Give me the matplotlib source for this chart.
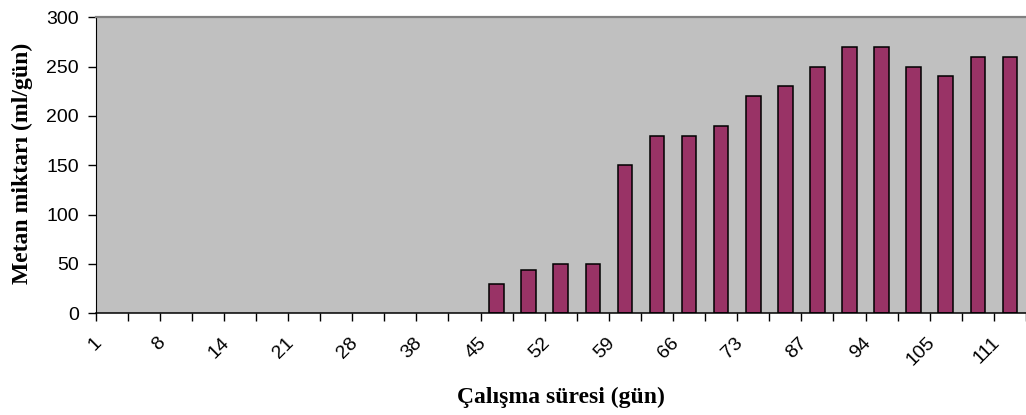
import numpy as np
import matplotlib.pyplot as plt
from matplotlib.transforms import ScaledTranslation

# Çalışma günleri (her ikinci kategori etiketli) ve günlük metan miktarı
gun_etiketleri = ['1', '8', '14', '21', '28', '38', '45', '52', '59', '66',
                  '73', '87', '94', '105', '111']
metan = [0, 0, 0, 0, 0, 0, 0, 0, 0, 0, 0, 0,
         30, 44, 50, 50, 150, 180, 180, 190, 220, 230,
         250, 270, 270, 250, 240, 260, 260]

x = np.arange(len(metan))

fig = plt.figure(figsize=(10.26, 4.15), dpi=100)
ax = fig.add_axes([95.5 / 1026, 1 - 313.3 / 415, 930.5 / 1026, 296 / 415])
ax.set_facecolor('#c0c0c0')

# sıfır değerli çubukların kenarı çizilmesin
kenar = ['black' if v > 0 else 'none' for v in metan]
ax.bar(x, metan, width=0.455, color='#993366', edgecolor=kenar,
       linewidth=1.1, zorder=2)

# Eksen sınırları
ax.set_xlim(-0.5, 28.41)
ax.set_ylim(0, 300)
ax.set_yticks(np.arange(0, 301, 50))

# Kategori sınırlarında çentikler, etiketler her ikinci kategoride
ax.set_xticks(x[::2], gun_etiketleri)
ax.set_xticks(np.arange(-0.5, len(metan), 1), minor=True)
ax.tick_params(axis='x', which='major', length=0, pad=15)
ax.tick_params(axis='x', which='minor', length=6, width=1, direction='out')
ax.tick_params(axis='y', length=6, width=1, direction='out', pad=6)

for lbl in ax.get_xticklabels():
    lbl.set_rotation(45)
    lbl.set_ha('right')
    lbl.set_va('top')
    lbl.set_fontfamily('Liberation Sans')
    lbl.set_fontsize(14)
    lbl.set_transform(lbl.get_transform() +
                      ScaledTranslation(-7 / 100, 0, fig.dpi_scale_trans))
for lbl in ax.get_yticklabels():
    lbl.set_fontfamily('Liberation Sans')
    lbl.set_fontsize(14)

ax.spines['top'].set_color('#808080')
ax.spines['top'].set_linewidth(1.6)
ax.spines['right'].set_visible(False)
ax.spines['left'].set_color('black')
ax.spines['bottom'].set_color('black')
ax.spines['bottom'].set_linewidth(1.1)

ax.set_xlabel('Çalışma süresi (gün)', family='Liberation Serif',
              fontweight='bold', fontsize=17)
ax.set_ylabel('Metan miktarı (ml/gün)', family='Liberation Serif',
              fontweight='bold', fontsize=17)
ax.xaxis.set_label_coords(0.5, -0.2845)
ax.xaxis.label.set_va('center')
ax.yaxis.set_label_coords(-0.0785, 0.508)
ax.yaxis.label.set_va('center')

plt.savefig('out.png', dpi=100)
